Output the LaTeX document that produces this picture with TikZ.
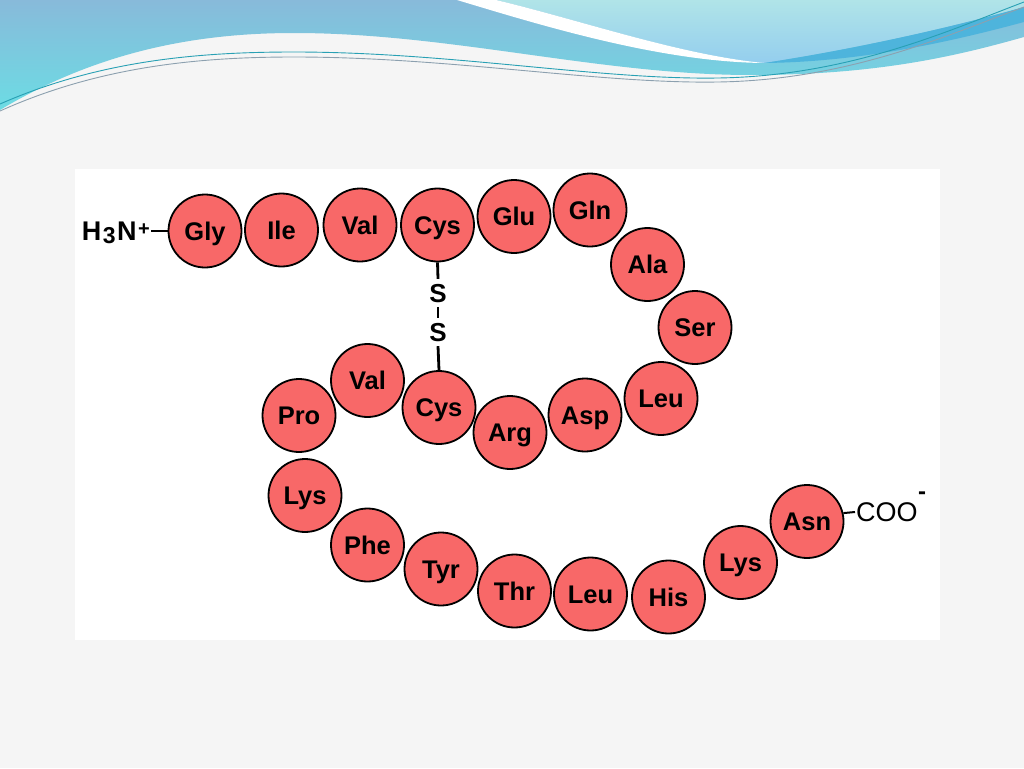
\documentclass[tikz,border=0pt]{standalone}
\usepackage{fontspec}
\setmainfont{Liberation Sans}
\definecolor{bggray}{RGB}{245,245,245}
\definecolor{aared}{RGB}{248,104,104}
\definecolor{waveA}{RGB}{136,186,218}
\definecolor{waveB}{RGB}{108,220,228}
\definecolor{waveC}{RGB}{176,228,232}
\definecolor{waveD}{RGB}{148,206,238}
\definecolor{stripe}{RGB}{78,180,220}
\definecolor{thinA}{RGB}{40,160,180}
\definecolor{thinB}{RGB}{140,160,175}
\begin{document}
\begin{tikzpicture}[x=1pt,y=-1pt,
  aa/.style={circle, draw=black, line width=1.8pt, fill=aared, minimum size=73pt,
    inner sep=0pt, font=\fontsize{25.5}{25.5}\selectfont\bfseries, text height=18pt, text depth=0pt},
  bond/.style={line width=2pt},
  ssbond/.style={line width=2.8pt},
  sulfur/.style={inner xsep=1pt, inner ysep=4.5pt, text height=19pt, text depth=0pt,
    font=\fontsize{26}{26}\selectfont\bfseries},
  endtext/.style={inner sep=1pt, text height=19pt, text depth=0pt}
]
\useasboundingbox (0,0) rectangle (1024,768);
% background
\fill[bggray] (0,0) rectangle (1024,768);
% waves
\shade[top color=waveA, bottom color=waveB] (0,0) -- (1024,0) -- (1024,37)
  .. controls (960,55) and (880,75) .. (751,75)
  .. controls (600,75) and (450,33) .. (294,33)
  .. controls (200,33) and (100,50) .. (0,110) -- cycle;
\shade[top color=waveC, bottom color=waveD] (496,0)
  .. controls (580,20) and (680,55) .. (764,63)
  .. controls (850,50) and (950,28) .. (1024,7) -- (1024,0) -- cycle;
\fill[white] (457,0) .. controls (540,25) and (660,62) .. (764,63)
  .. controls (680,55) and (580,20) .. (496,0) -- cycle;
\fill[stripe] (764,63) .. controls (850,50) and (950,28) .. (1024,7) -- (1024,22)
  .. controls (950,42) and (860,62) .. (764,63) -- cycle;
\draw[thinA, line width=0.9pt] (0,104) .. controls (100,60) and (200,52) .. (294,52)
  .. controls (450,52) and (600,80) .. (718,78) .. controls (850,76) and (950,30) .. (1024,2);
\draw[thinB, line width=0.9pt] (0,111) .. controls (100,66) and (200,57) .. (294,57)
  .. controls (450,57) and (600,84) .. (718,82) .. controls (850,80) and (950,34) .. (1024,7);
% white panel
\fill[white] (75,169) rectangle (940,640);
% amino acids
\node[aa] (gly)  at (205,231)   {Gly};
\node[aa] (ile)  at (281.5,230) {Ile};
\node[aa] (val1) at (360,225)   {Val};
\node[aa] (cys1) at (437.5,225) {Cys};
\node[aa] (glu)  at (514,216.5) {Glu};
\node[aa] (gln)  at (590,210)   {Gln};
\node[aa] (ala)  at (647.5,264.5) {Ala};
\node[aa] (ser)  at (695,327.5) {Ser};
\node[aa] (leu1) at (661,398.5) {Leu};
\node[aa] (asp)  at (585,415)   {Asp};
\node[aa] (arg)  at (510,432.5) {Arg};
\node[aa] (cys2) at (439,407.5) {Cys};
\node[aa] (val2) at (367.5,380.5) {Val};
\node[aa] (pro)  at (299,415.5) {Pro};
\node[aa] (lys1) at (305,495.5) {Lys};
\node[aa] (phe)  at (367.5,545) {Phe};
\node[aa] (tyr)  at (441,569)   {Tyr};
\node[aa] (thr)  at (514.5,591) {Thr};
\node[aa] (leu2) at (590.5,594) {Leu};
\node[aa] (his)  at (668.5,597) {His};
\node[aa] (lys2) at (740.5,562.5) {Lys};
\node[aa] (asn)  at (807,521.5) {Asn};
% termini
\node[endtext, anchor=east, font=\fontsize{27}{27}\selectfont\bfseries] (h3n) at (151,231)
  {H\kern1.5pt\smash{\raisebox{-3pt}{\fontsize{23}{23}\selectfont 3}}\kern1.5pt N\kern1.5pt\smash{\raisebox{5pt}{\fontsize{20}{20}\selectfont +}}};
\draw[bond] (h3n.east) -- (gly.west);
\node[endtext, anchor=west, font=\fontsize{27}{27}\selectfont] (coo) at (855,512)
  {COO\rlap{\kern0.5pt\smash{\raisebox{22pt}{\fontsize{24}{24}\selectfont\bfseries -}}}};
\draw[bond] (asn.13) -- (coo.west);
% disulfide bridge
\node[sulfur] (s1) at (438,293) {S};
\node[sulfur] (s2) at (438,332) {S};
\draw[ssbond] (cys1.south) -- (s1.north);
\draw[ssbond] (s1.south) -- (s2.north);
\draw[ssbond] (s2.south) -- (cys2.north);
\end{tikzpicture}
\end{document}
